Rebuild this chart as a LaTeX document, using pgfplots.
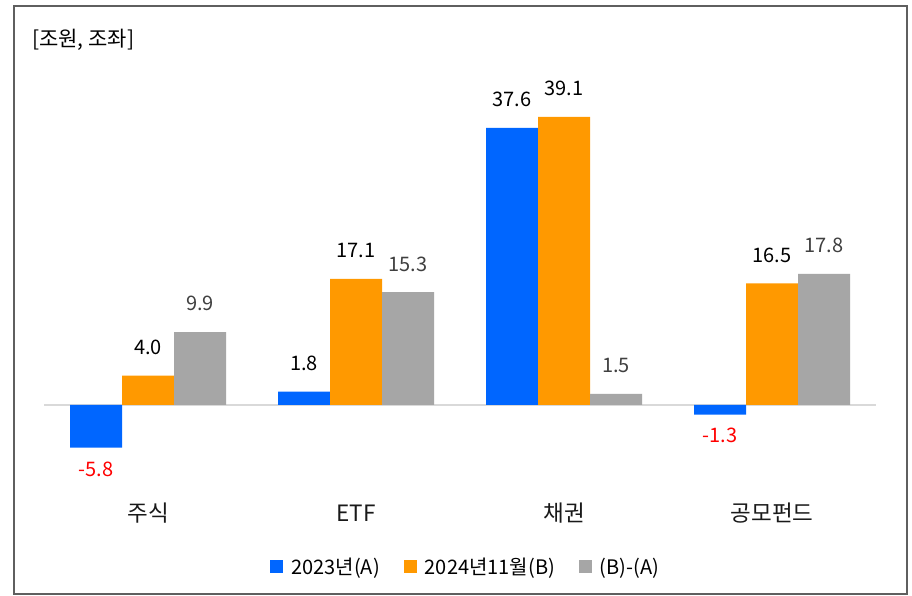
\documentclass[border=0pt]{standalone}
\usepackage{pgfplots}
\pgfplotsset{compat=1.18}
\usepackage{fontspec}
\setmainfont{Noto Sans CJK KR}
\definecolor{cA}{HTML}{0066FF}
\definecolor{cB}{HTML}{FF9900}
\definecolor{cC}{HTML}{A6A6A6}
\definecolor{zeroline}{HTML}{D9D9D9}
\definecolor{frame}{HTML}{5F5F5F}
\definecolor{labelgray}{HTML}{404040}
\definecolor{negred}{HTML}{FF0000}
\pgfplotsset{/pgfplots/sqlegend/.style={legend image code/.code={\fill[##1,draw=none] (0pt,-6.5pt) rectangle (13pt,6.5pt); \path (19pt,0pt);}}}
\begin{document}
\begin{tikzpicture}[x=1pt,y=1pt]
\useasboundingbox (0,0) rectangle (912,596);
\fill[white] (0,0) rectangle (912,596);
\draw[line width=2pt, draw=frame] (14,1.5) rectangle (906.5,589.5);
\node[anchor=west, font=\fontsize{21}{24}\selectfont, text=black, inner sep=0pt] at (32,556) {[조원, 조좌]};
\begin{axis}[
  at={(44pt,117.3pt)}, anchor=south west, scale only axis,
  width=832pt, height=405.4pt,
  xmin=-0.5, xmax=3.5, ymin=-10, ymax=45,
  ybar=0pt, bar width=52pt,
  every axis plot post/.append style={sqlegend},
  axis line style={draw=none}, major tick length=0pt,
  ytick=\empty, xtick={0,1,2,3}, xticklabels={주식,ETF,채권,공모펀드},
  xticklabel style={anchor=base, yshift=-43pt, font=\fontsize{22.5}{25}\selectfont, text=black!90},
  extra y ticks={0}, extra y tick labels={},
  extra y tick style={grid=major, major grid style={draw=zeroline, line width=2pt}},
  nodes near coords={\pgfmathfloatifflags{\pgfplotspointmeta}{2}{\raisebox{0pt}[14.7pt][0pt]{\textcolor{negred}{\pgfmathprintnumber{\pgfplotspointmeta}}}}{\raisebox{7.5pt}[22.2pt][0pt]{\pgfmathprintnumber{\pgfplotspointmeta}}}},
  nodes near coords align={vertical},
  every node near coord/.append style={inner xsep=0pt, inner ysep=13.5pt, font=\fontsize{20}{22}\selectfont, text=black},
  /pgf/number format/fixed, /pgf/number format/fixed zerofill, /pgf/number format/precision=1,
  /pgf/number format/assume math mode=true,
  legend style={at={(0.507,-0.217)}, anchor=center, draw=none, fill=none, legend columns=3,
    font=\fontsize{20}{22}\selectfont, inner sep=0pt,
    /tikz/every even column/.append style={column sep=22pt}},
  legend cell align=left,
]
\addplot[fill=cA, draw=none] coordinates {(0,-5.8) (1,1.8) (2,37.6) (3,-1.3)};
\addplot[fill=cB, draw=none] coordinates {(0,4.0) (1,17.1) (2,39.1) (3,16.5)};
\addplot[fill=cC, draw=none, every node near coord/.append style={text=labelgray}] coordinates {(0,9.9) (1,15.3) (2,1.5) (3,17.8)};
\legend{2023년(A),2024년11월(B),(B)-(A)}
\end{axis}
\end{tikzpicture}
\end{document}
